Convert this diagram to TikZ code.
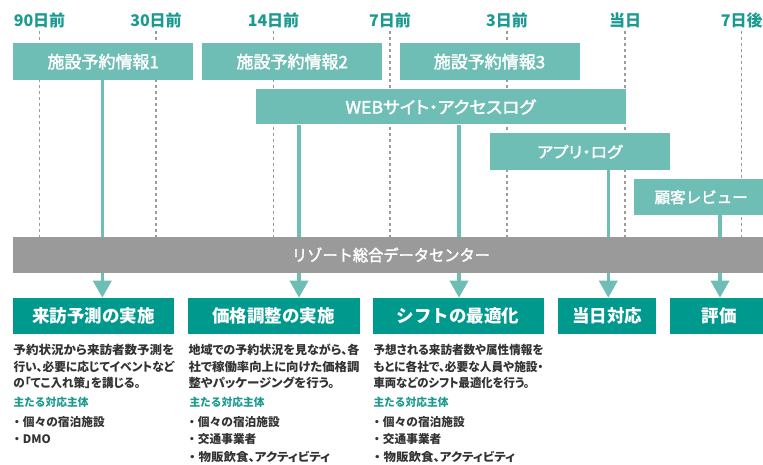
\documentclass[tikz,border=0pt]{standalone}
\usepackage{fontspec}
\usepackage{graphicx}
\setmainfont{Noto Sans CJK JP}
\newfontfamily\jp{Noto Sans CJK JP}
\newfontfamily\jpp{Noto Sans CJK JP}[RawFeature=+palt]
\newfontfamily\jpm{Noto Sans CJK JP}[FakeBold=2]
\newfontfamily\jpmp{Noto Sans CJK JP}[FakeBold=2,RawFeature=+palt]
\usetikzlibrary{arrows.meta}
\pgfdeclarelayer{back}
\pgfdeclarelayer{mid}
\pgfsetlayers{back,mid,main}
\definecolor{lteal}{HTML}{6FBEB5}
\definecolor{dteal}{HTML}{00998E}
\definecolor{barg}{HTML}{9A9A9A}
\definecolor{guidec}{HTML}{9C9C9C}
\definecolor{lbl}{HTML}{1A9A90}
\definecolor{txt}{HTML}{333333}
\tikzset{
  tl/.style={font=\jp\bfseries\fontsize{16}{16}\selectfont, text=lbl, anchor=base, inner sep=0},
  guide/.style={draw=guidec, line width=1.4pt, dash pattern=on 2.6pt off 3.4pt},
  src/.style={fill=lteal, text=white, inner sep=0, anchor=north west, font=\jpm\fontsize{17}{17}\selectfont},
  res/.style={fill=dteal, text=white, inner sep=0, anchor=north west, font=\jp\bfseries\fontsize{17.5}{17.5}\selectfont},
  shaft/.style={draw=lteal, line width=3.5pt, -{Triangle[width=18pt,length=17pt]}},
  dsc/.style={anchor=base west, inner sep=0, text=txt, font=\jpp\bfseries\fontsize{12}{12}\selectfont},
  who/.style={anchor=base west, inner sep=0, text=lbl, font=\jp\bfseries\fontsize{11}{11}\selectfont},
  bul/.style={anchor=base west, inner sep=0, text=txt, font=\jp\bfseries\fontsize{11.7}{11.7}\selectfont},
}
\newcommand\fitw[2]{\resizebox{#1}{\height}{#2}}
\newcommand\bulp[1]{・{\jpp\bfseries #1}}
\begin{document}
\begin{tikzpicture}[x=1pt,y=-1pt]
\begin{pgfonlayer}{back}
\fill[white] (0,0) rectangle (763,465);
\end{pgfonlayer}
\useasboundingbox (0,0) rectangle (763,465);

% timeline labels
\node[tl] (t1) at (39.5,26.5) {90日前};
\node[tl] (t2) at (156,26.5) {30日前};
\node[tl] (t3) at (273.5,26.5) {14日前};
\node[tl] (t4) at (390,26.5) {7日前};
\node[tl] (t5) at (507,26.5) {3日前};
\node[tl] (t6) at (625,26.5) {当日};
\node[tl] (t7) at (741.7,26.5) {7日後};

% source boxes
\node[src, minimum width=180pt, minimum height=37pt] (r1) at (13,43) {施設予約情報1};
\node[src, minimum width=180pt, minimum height=37pt] (r2) at (202,43) {施設予約情報2};
\node[src, minimum width=180pt, minimum height=37pt] (r3) at (399.3,43) {施設予約情報3};
\node[src, minimum width=370pt, minimum height=35pt, font=\jpmp\fontsize{17}{17}\selectfont] (web) at (255.3,89.3) {\fitw{190pt}{WEBサイト・アクセスログ}};
\node[src, minimum width=179.3pt, minimum height=36.7pt, font=\jpmp\fontsize{15.5}{15.5}\selectfont] (app) at (490,133.3) {\fitw{85pt}{アプリ・ログ}};
\node[src, minimum width=134pt, minimum height=36pt, font=\jpm\fontsize{15.5}{15.5}\selectfont] (rev) at (634,179) {顧客レビュー};

% data center bar
\node[fill=barg, inner sep=0, anchor=north west, minimum width=757pt, minimum height=35.5pt] (bar) at (12.7,237) {};
\node[inner sep=0, text=white, font=\jpm\fontsize{16}{16}\selectfont] (bart) at (391,255) {\fitw{198pt}{リゾート総合データセンター}};

% result boxes
\node[res, minimum width=161.3pt, minimum height=35.6pt] (p1) at (12.7,297.7) {来訪予測の実施};
\node[res, minimum width=171.6pt, minimum height=35.6pt] (p2) at (187.7,297.7) {価格調整の実施};
\node[res, minimum width=170.6pt, minimum height=35.6pt] (p3) at (372.7,297.7) {シフトの最適化};
\node[res, minimum width=98.3pt, minimum height=35.6pt] (p4) at (557.7,297.7) {当日対応};
\node[res, minimum width=99.7pt, minimum height=35.6pt] (p5) at (669.3,297.7) {評価};

% descriptions
\node[dsc] (d1a) at (13.3,354.7) {\fitw{160.7pt}{予約状況から来訪者数予測を}};
\node[dsc] (d1b) at (13.3,371.4) {\fitw{160.7pt}{行い、必要に応じてイベントなど}};
\node[dsc] (d1c) at (13.3,387.9) {\fitw{127pt}{の「てこ入れ策」を講じる。}};
\node[dsc] (d2a) at (188.3,354.7) {\fitw{171pt}{地域での予約状況を見ながら、各}};
\node[dsc] (d2b) at (188.3,371.4) {\fitw{171pt}{社で稼働率向上に向けた価格調}};
\node[dsc] (d2c) at (188.3,387.9) {\fitw{146pt}{整やパッケージングを行う。}};
\node[dsc] (d3a) at (373.3,354.7) {\fitw{170pt}{予想される来訪者数や属性情報を}};
\node[dsc] (d3b) at (373.3,371.4) {\fitw{170pt}{もとに各社で、必要な人員や施設・}};
\node[dsc] (d3c) at (373.3,387.9) {\fitw{156pt}{車両などのシフト最適化を行う。}};

% main actors
\node[who] (w1) at (13.3,406.5) {\fitw{75pt}{主たる対応主体}};
\node[who] (w2) at (189.3,406.5) {\fitw{75pt}{主たる対応主体}};
\node[who] (w3) at (373.3,406.5) {\fitw{75pt}{主たる対応主体}};

\node[bul] (b1a) at (11,426) {・個々の宿泊施設};
\node[bul] (b1b) at (11,443.3) {・DMO};
\node[bul] (b2a) at (186,426) {・個々の宿泊施設};
\node[bul] (b2b) at (186,443.3) {・交通事業者};
\node[bul] (b2c) at (186,461) {\fitw{144pt}{\bulp{物販飲食、アクティビティ}}};
\node[bul] (b3a) at (371,426) {・個々の宿泊施設};
\node[bul] (b3b) at (371,443.3) {・交通事業者};
\node[bul] (b3c) at (371,461) {\fitw{144pt}{\bulp{物販飲食、アクティビティ}}};

% guides and shafts
\begin{pgfonlayer}{mid}
\foreach \n/\gx in {1/39.5,2/156,3/273.5,4/390,5/507,6/625,7/741.7}{
  \coordinate (g\n) at (\gx,31);
  \draw[guide] (g\n) -- (g\n |- bar.south);
}
\coordinate (s1) at (102.3,0);
\coordinate (s2) at (299,0);
\coordinate (s3) at (459,0);
\coordinate (s4) at (608.3,0);
\coordinate (s5) at (720,0);
\draw[shaft] (s1 |- r1.south) -- (s1 |- p1.north);
\draw[shaft] (s2 |- web.south) -- (s2 |- p2.north);
\draw[shaft] (s3 |- web.south) -- (s3 |- p3.north);
\draw[shaft] (s4 |- app.south) -- (s4 |- p4.north);
\draw[shaft] (s5 |- rev.south) -- (s5 |- p5.north);
\end{pgfonlayer}
\end{tikzpicture}
\end{document}
